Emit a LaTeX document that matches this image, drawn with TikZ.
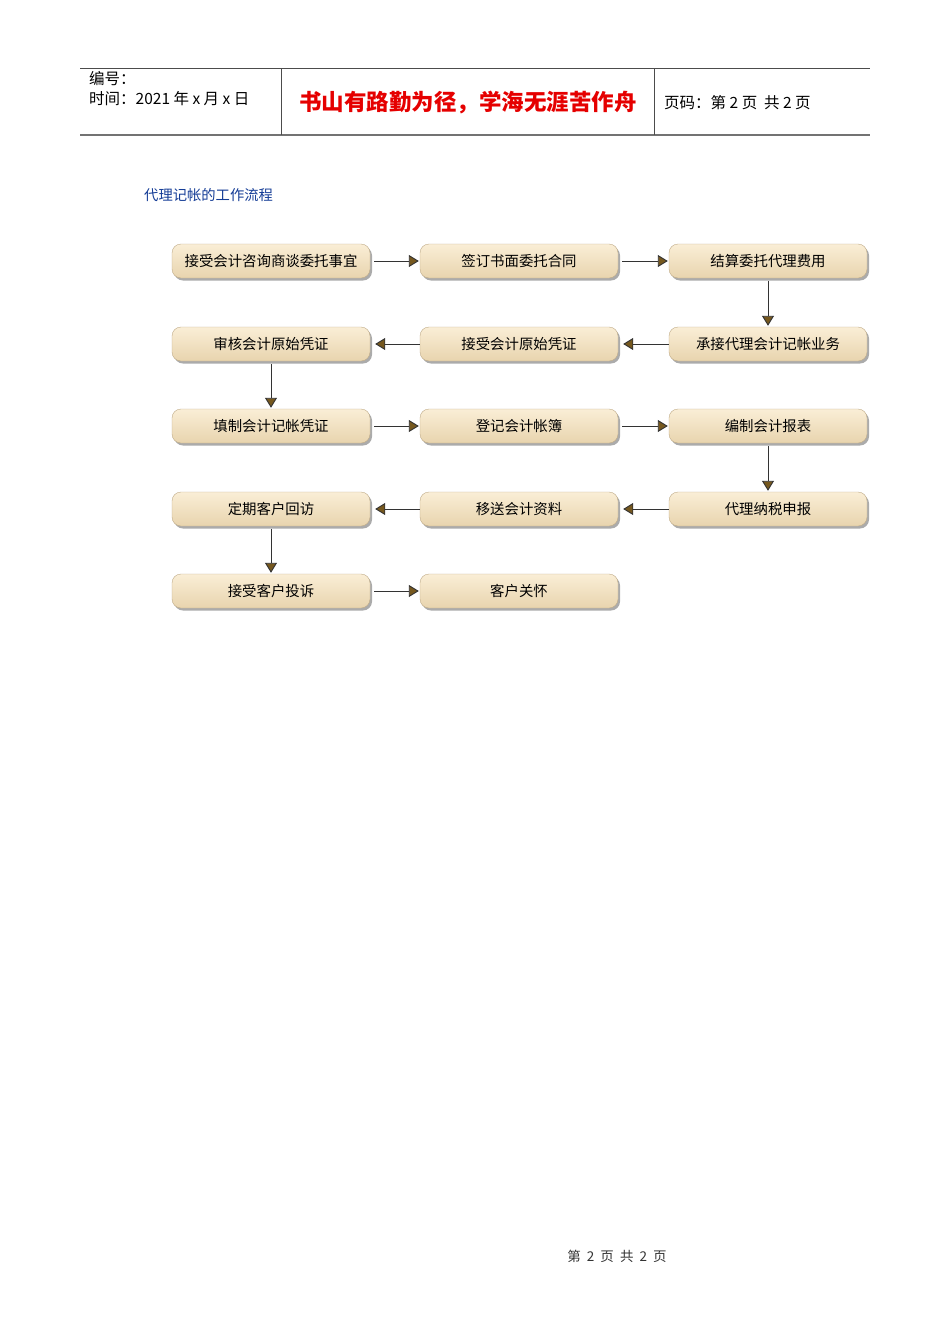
\documentclass[tikz,border=0pt]{standalone}
\usepackage{fontspec}
\setmainfont{Noto Sans CJK SC}
\usetikzlibrary{arrows.meta,shadows}
\definecolor{boxtop}{RGB}{250,238,214}
\definecolor{boxbot}{RGB}{232,212,174}
\definecolor{boxline}{RGB}{190,170,135}
\definecolor{tipbrown}{RGB}{118,88,30}
\definecolor{titleblue}{RGB}{20,60,150}
\begin{document}
\begin{tikzpicture}[x=1pt, y=-1pt,
    stepbox/.style={rectangle, rounded corners=9pt, draw=boxline, top color=boxtop, bottom color=boxbot,
        minimum width=198pt, minimum height=34pt, font=\fontsize{14.4}{16}\selectfont,
        drop shadow={shadow xshift=2pt, shadow yshift=-2.5pt, fill=black!55, opacity=0.6}},
    flow/.style={-{Triangle[width=12pt,length=10pt,fill=tipbrown]}, draw=black!80, line width=0.9pt, shorten >=1pt},
    head/.style={inner sep=0pt, anchor=west, font=\fontsize{15.5}{17}\selectfont}
]
    \useasboundingbox (0,0) rectangle (950,1344);

    % Kopfzeile
    \draw[black!70, line width=0.8pt] (80,68) -- (870,68);
    \draw[black!55, line width=1.6pt] (80,135) -- (870,135);
    \draw[black!70, line width=0.8pt] (281,68) -- (281,135);
    \draw[black!70, line width=0.8pt] (654,68) -- (654,135);
    \node[head] (nummer) at (89,79) {编号：};
    \node[head] (zeit) at (89,99) {时间：2021 年 x 月 x 日};
    \node[inner sep=0pt, text=red!90!black, font=\fontsize{22.5}{25}\selectfont\bfseries] (motto) at (468,103) {书山有路勤为径，学海无涯苦作舟};
    \node[head] (seite) at (664,103) {页码：第 2 页 \ 共 2 页};

    % Titel
    \node[head, text=titleblue, font=\fontsize{14.3}{16}\selectfont] (titel) at (144,195) {代理记帐的工作流程};

    % Schritte
    \node[stepbox] (beratung) at (271,261) {接受会计咨询商谈委托事宜};
    \node[stepbox] (vertrag) at (519,261) {签订书面委托合同};
    \node[stepbox] (gebuehr) at (768,261) {结算委托代理费用};
    \node[stepbox] (uebernahme) at (768,344) {承接代理会计记帐业务};
    \node[stepbox] (belegein) at (519,344) {接受会计原始凭证};
    \node[stepbox] (pruefung) at (271,344) {审核会计原始凭证};
    \node[stepbox] (buchung) at (271,426) {填制会计记帐凭证};
    \node[stepbox] (konten) at (519,426) {登记会计帐簿};
    \node[stepbox] (bericht) at (768,426) {编制会计报表};
    \node[stepbox] (steuer) at (768,509) {代理纳税申报};
    \node[stepbox] (uebergabe) at (519,509) {移送会计资料};
    \node[stepbox] (besuch) at (271,509) {定期客户回访};
    \node[stepbox] (beschwerde) at (271,591) {接受客户投诉};
    \node[stepbox] (pflege) at (519,591) {客户关怀};

    % Pfeile
    \draw[flow] (beratung.east) ++(4,0) -- (vertrag.west);
    \draw[flow] (vertrag.east) ++(4,0) -- (gebuehr.west);
    \draw[flow] (gebuehr.south) ++(0,3) -- (uebernahme.north);
    \draw[flow] (uebernahme.west) -- ([xshift=4pt]belegein.east);
    \draw[flow] (belegein.west) -- ([xshift=4pt]pruefung.east);
    \draw[flow] (pruefung.south) ++(0,3) -- (buchung.north);
    \draw[flow] (buchung.east) ++(4,0) -- (konten.west);
    \draw[flow] (konten.east) ++(4,0) -- (bericht.west);
    \draw[flow] (bericht.south) ++(0,3) -- (steuer.north);
    \draw[flow] (steuer.west) -- ([xshift=4pt]uebergabe.east);
    \draw[flow] (uebergabe.west) -- ([xshift=4pt]besuch.east);
    \draw[flow] (besuch.south) ++(0,3) -- (beschwerde.north);
    \draw[flow] (beschwerde.east) ++(4,0) -- (pflege.west);

    % Fusszeile
    \node[inner sep=0pt, text=black!80, font=\fontsize{13.5}{15}\selectfont] (fuss) at (617,1256) {第 \ 2 \ 页 \ 共 \ 2 \ 页};
\end{tikzpicture}
\end{document}
